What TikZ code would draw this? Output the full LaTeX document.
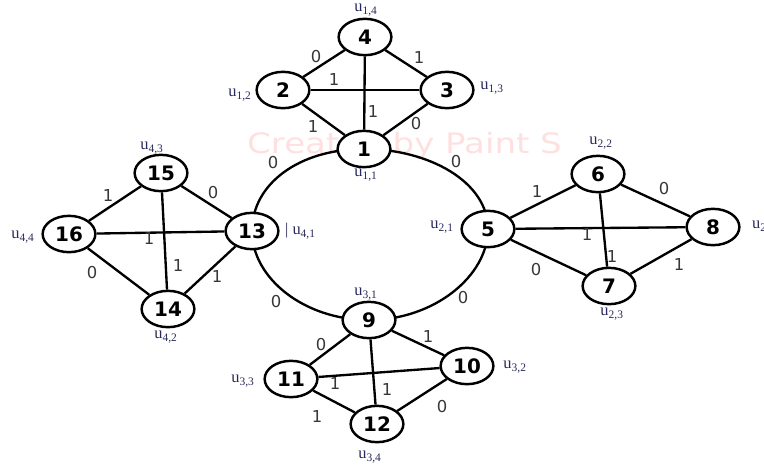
\documentclass[tikz,border=0pt]{standalone}
\usepackage{fontspec}
\setmainfont{Liberation Serif}
\setsansfont{DejaVu Sans}
\usetikzlibrary{shapes.geometric,backgrounds}
\definecolor{ulabel}{RGB}{40,40,90}
\definecolor{wlabel}{RGB}{55,55,55}

\begin{document}
\begin{tikzpicture}[x=0.03cm,y=-0.03cm,
                    vtx/.style={ellipse,draw,line width=2.1pt,fill=white,minimum width=45pt,minimum height=31pt,inner sep=0pt,font=\sffamily\bfseries\fontsize{17}{19}\selectfont},
                    wt/.style={font=\sffamily\fontsize{14}{16}\selectfont,text=wlabel},
                    ul/.style={font=\fontsize{14}{16}\selectfont,text=ulabel},
                    every edge/.style={draw,line width=2pt}]
                    \useasboundingbox (0,0) rectangle (764,471);

                    % vertices
                    \node[vtx] (n1) at (364,149) {1};
                    \node[vtx] (n2) at (283,90) {2};
                    \node[vtx] (n3) at (447,90) {3};
                    \node[vtx] (n4) at (365,37) {4};
                    \node[vtx] (n5) at (488,229) {5};
                    \node[vtx] (n6) at (598,174) {6};
                    \node[vtx] (n7) at (609,286) {7};
                    \node[vtx] (n8) at (713,227) {8};
                    \node[vtx] (n9) at (369,320) {9};
                    \node[vtx] (n10) at (467,366) {10};
                    \node[vtx] (n11) at (291,379) {11};
                    \node[vtx] (n12) at (377,424) {12};
                    \node[vtx] (n13) at (252,231) {13};
                    \node[vtx] (n14) at (168,309) {14};
                    \node[vtx] (n15) at (161,173) {15};
                    \node[vtx] (n16) at (69,234) {16};

                    % watermark and ring
                    \begin{scope}[on background layer]
                    \node[anchor=base west,inner sep=0pt,text=red!12,font=\sffamily\fontsize{24}{26}\selectfont] (wm) at (247,153) {\scalebox{1.21}[1]{Created by Paint S}};
                    \draw[line width=2pt] (n1.center) .. controls +(65,0) and +(0,-47) .. (n5.center);
                    \draw[line width=2pt] (n5.center) .. controls +(0,47) and +(65,0) .. (n9.center);
                    \draw[line width=2pt] (n9.center) .. controls +(-65,0) and +(0,47) .. (n13.center);
                    \draw[line width=2pt] (n13.center) .. controls +(0,-47) and +(-65,0) .. (n1.center);
                    \end{scope}

                    % first block
                    \path (n4) edge (n2);
                    \path (n4) edge (n3);
                    \path (n2) edge (n3);
                    \path (n4) edge (n1);
                    \path (n2) edge (n1);
                    \path (n3) edge (n1);

                    % second block
                    \path (n5) edge (n6);
                    \path (n6) edge (n8);
                    \path (n5) edge (n8);
                    \path (n6) edge (n7);
                    \path (n5) edge (n7);
                    \path (n7) edge (n8);

                    % third block
                    \path (n9) edge (n11);
                    \path (n9) edge (n10);
                    \path (n11) edge (n10);
                    \path (n9) edge (n12);
                    \path (n11) edge (n12);
                    \path (n10) edge (n12);

                    % fourth block
                    \path (n15) edge (n16);
                    \path (n15) edge (n13);
                    \path (n16) edge (n13);
                    \path (n15) edge (n14);
                    \path (n16) edge (n14);
                    \path (n13) edge (n14);

                    % weights
                    \node[wt] (w42) at (316,57) {0};
                    \node[wt] (w43) at (419,58) {1};
                    \node[wt] (w23) at (334,80) {1};
                    \node[wt] (w41) at (373,112) {1};
                    \node[wt] (w21) at (313,127) {1};
                    \node[wt] (w31) at (416,124) {0};
                    \node[wt] (w131) at (273,163) {0};
                    \node[wt] (w15) at (456,162) {0};
                    \node[wt] (w59) at (463,298) {0};
                    \node[wt] (w913) at (276,302) {0};

                    \node[wt] (w56) at (537,192) {1};
                    \node[wt] (w68) at (664,189) {0};
                    \node[wt] (w58) at (587,235) {1};
                    \node[wt] (w67) at (612,257) {1};
                    \node[wt] (w57) at (536,270) {0};
                    \node[wt] (w78) at (679,265) {1};

                    \node[wt] (w911) at (321,345) {0};
                    \node[wt] (w910) at (428,337) {1};
                    \node[wt] (w1110) at (335,384) {1};
                    \node[wt] (w912) at (387,390) {1};
                    \node[wt] (w1112) at (317,417) {1};
                    \node[wt] (w1012) at (442,407) {0};

                    \node[wt] (w1516) at (108,196) {1};
                    \node[wt] (w1513) at (213,193) {0};
                    \node[wt] (w1613) at (149,239) {1};
                    \node[wt] (w1514) at (178,266) {1};
                    \node[wt] (w1614) at (92,273) {0};
                    \node[wt] (w1314) at (217,277) {1};

                    % vertex names
                    \node[ul] (u11) at (366,175) {u\textsubscript{1,1}};
                    \node[ul] (u12) at (240,95) {u\textsubscript{1,2}};
                    \node[ul] (u13) at (492,88) {u\textsubscript{1,3}};
                    \node[ul] (u14) at (366,10) {u\textsubscript{1,4}};
                    \node[ul] (u21) at (442,227) {u\textsubscript{2,1}};
                    \node[ul] (u22) at (601,143) {u\textsubscript{2,2}};
                    \node[ul] (u23) at (612,314) {u\textsubscript{2,3}};
                    \node[ul,anchor=west] (u24) at (748,227) {u\textsubscript{2,4}};
                    \node[ul] (u31) at (366,294) {u\textsubscript{3,1}};
                    \node[ul] (u32) at (515,367) {u\textsubscript{3,2}};
                    \node[ul] (u33) at (243,381) {u\textsubscript{3,3}};
                    \node[ul] (u34) at (370,457) {u\textsubscript{3,4}};
                    \node[ul,anchor=west] (u41) at (281,231) {| u\textsubscript{4,1}};
                    \node[ul] (u42) at (166,337) {u\textsubscript{4,2}};
                    \node[ul] (u43) at (152,148) {u\textsubscript{4,3}};
                    \node[ul] (u44) at (23,237) {u\textsubscript{4,4}};

                \end{tikzpicture}
\end{document}
